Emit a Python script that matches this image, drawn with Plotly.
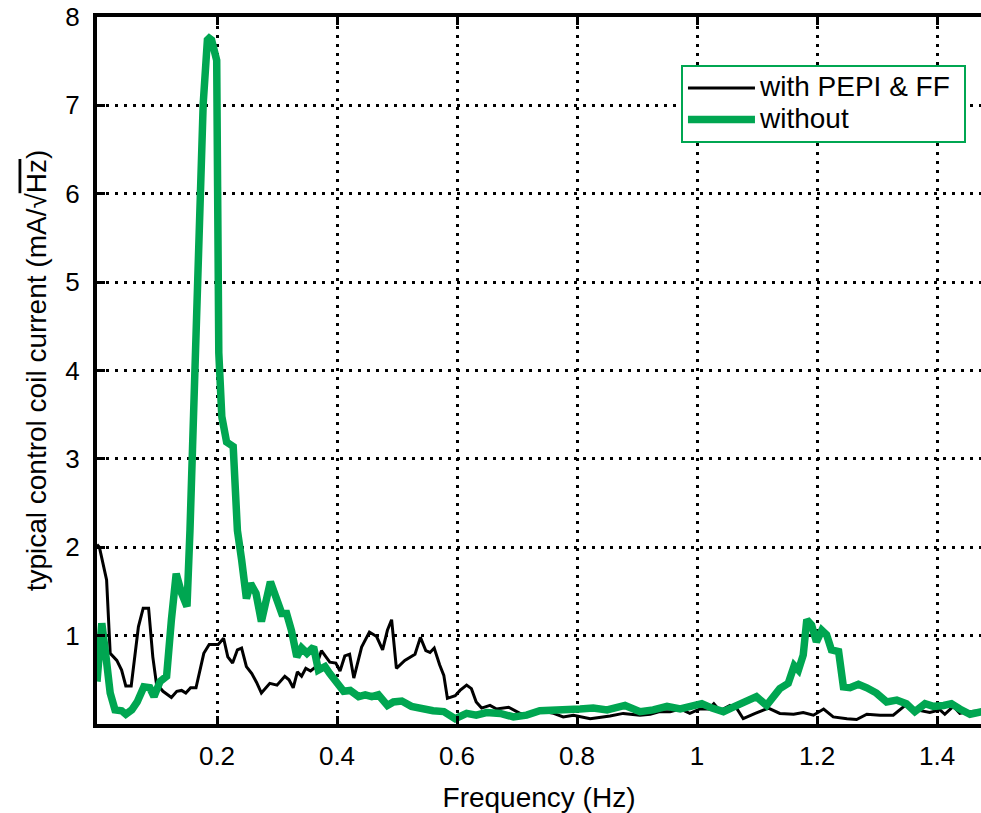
import plotly.graph_objects as go

# ---- data ----
freq_with = [0.0, 0.004, 0.016, 0.022, 0.033, 0.041, 0.048, 0.057, 0.069, 0.077, 0.086, 0.093, 0.099,
             0.11, 0.124, 0.133, 0.141, 0.148, 0.156, 0.165, 0.178, 0.187, 0.202, 0.211, 0.218, 0.226,
             0.234, 0.241, 0.249, 0.258, 0.266, 0.274, 0.288, 0.30, 0.313, 0.32, 0.327, 0.334, 0.341,
             0.348, 0.356, 0.365, 0.374, 0.388, 0.398, 0.405, 0.413, 0.421, 0.428, 0.441, 0.454, 0.466,
             0.476, 0.484, 0.491, 0.499, 0.513, 0.53, 0.539, 0.548, 0.555, 0.562, 0.571, 0.578, 0.584,
             0.597, 0.605, 0.616, 0.624, 0.632, 0.641, 0.655, 0.666, 0.686, 0.705, 0.722, 0.738, 0.761,
             0.777, 0.794, 0.822, 0.855, 0.877, 0.905, 0.922, 0.938, 0.955, 0.972, 0.988, 1.005, 1.019,
             1.028, 1.038, 1.055, 1.066, 1.077, 1.097, 1.119, 1.138, 1.161, 1.177, 1.194, 1.211, 1.227,
             1.25, 1.266, 1.283, 1.305, 1.327, 1.347, 1.366, 1.388, 1.405, 1.413, 1.427, 1.438, 1.452, 1.475]
amp_with = [2.03, 2.0, 1.63, 0.80, 0.72, 0.61, 0.43, 0.43, 1.10, 1.31, 1.31, 0.76, 0.46,
            0.37, 0.30, 0.37, 0.38, 0.35, 0.41, 0.41, 0.80, 0.90, 0.90, 0.97, 0.76, 0.69,
            0.84, 0.86, 0.65, 0.57, 0.47, 0.35, 0.46, 0.44, 0.54, 0.50, 0.41, 0.59, 0.54,
            0.63, 0.60, 0.65, 0.83, 0.70, 0.69, 0.60, 0.77, 0.79, 0.52, 0.87, 1.04, 0.99,
            0.84, 1.06, 1.18, 0.63, 0.72, 0.79, 0.98, 0.83, 0.81, 0.86, 0.67, 0.55, 0.29,
            0.32, 0.38, 0.44, 0.40, 0.25, 0.18, 0.21, 0.17, 0.19, 0.12, 0.12, 0.15, 0.12,
            0.08, 0.10, 0.06, 0.09, 0.12, 0.10, 0.11, 0.14, 0.14, 0.17, 0.12, 0.17, 0.17,
            0.23, 0.15, 0.21, 0.18, 0.06, 0.12, 0.18, 0.12, 0.11, 0.13, 0.10, 0.17, 0.08,
            0.06, 0.05, 0.11, 0.10, 0.10, 0.21, 0.16, 0.13, 0.16, 0.11, 0.20, 0.12, 0.14, 0.15]

freq_without = [0.0, 0.008, 0.015, 0.022, 0.03, 0.041, 0.048, 0.058, 0.067, 0.078, 0.088, 0.095, 0.105,
                0.116, 0.124, 0.132, 0.141, 0.15, 0.155, 0.158, 0.163, 0.171, 0.177, 0.184, 0.187, 0.191,
                0.1995, 0.201, 0.203, 0.208, 0.216, 0.227, 0.234, 0.241, 0.249, 0.256, 0.265, 0.274, 0.283,
                0.289, 0.298, 0.308, 0.316, 0.324, 0.333, 0.341, 0.35, 0.361, 0.369, 0.38, 0.388, 0.40,
                0.411, 0.422, 0.436, 0.447, 0.458, 0.469, 0.484, 0.494, 0.508, 0.524, 0.541, 0.56, 0.578,
                0.597, 0.616, 0.632, 0.649, 0.672, 0.694, 0.716, 0.738, 0.761, 0.783, 0.805, 0.827, 0.85,
                0.88, 0.894, 0.905, 0.927, 0.95, 0.972, 0.988, 1.008, 1.025, 1.044, 1.063, 1.083, 1.099,
                1.116, 1.127, 1.138, 1.152, 1.162, 1.169, 1.177, 1.183, 1.191, 1.199, 1.208, 1.216, 1.224,
                1.236, 1.244, 1.255, 1.269, 1.283, 1.299, 1.316, 1.333, 1.349, 1.363, 1.38, 1.394, 1.411,
                1.424, 1.438, 1.455, 1.475]
amp_without = [0.48, 1.14, 0.76, 0.35, 0.16, 0.15, 0.11, 0.16, 0.25, 0.42, 0.41, 0.31, 0.48,
               0.54, 1.18, 1.70, 1.48, 1.33, 2.2, 2.91, 4.34, 6.0, 7.02, 7.74, 7.76, 7.74,
               7.51, 6.08, 4.2, 3.48, 3.19, 3.14, 2.19, 1.86, 1.42, 1.59, 1.48, 1.16, 1.42,
               1.61, 1.44, 1.25, 1.25, 1.06, 0.76, 0.86, 0.80, 0.87, 0.61, 0.65, 0.57, 0.46,
               0.37, 0.38, 0.31, 0.33, 0.31, 0.33, 0.21, 0.25, 0.26, 0.20, 0.17, 0.15, 0.14,
               0.06, 0.12, 0.10, 0.13, 0.12, 0.08, 0.10, 0.15, 0.15, 0.17, 0.17, 0.18, 0.16,
               0.21, 0.17, 0.14, 0.16, 0.20, 0.17, 0.20, 0.23, 0.18, 0.14, 0.20, 0.25, 0.31,
               0.21, 0.29, 0.40, 0.46, 0.66, 0.61, 0.78, 1.18, 1.12, 0.93, 1.06, 1.01, 0.84,
               0.82, 0.42, 0.41, 0.45, 0.41, 0.35, 0.25, 0.27, 0.23, 0.14, 0.23, 0.20, 0.21,
               0.23, 0.17, 0.11, 0.14]

x_ticks = [0.2, 0.4, 0.6, 0.8, 1.0, 1.2, 1.4]
x_tick_labels = ["0.2", "0.4", "0.6", "0.8", "1", "1.2", "1.4"]
y_ticks = [1, 2, 3, 4, 5, 6, 7, 8]
y_tick_labels = ["1", "2", "3", "4", "5", "6", "7", "8"]
series_names = ["with PEPI &amp; FF", "without"]

GREEN = "#00A651"
FONT = "Liberation Sans, Arial, Helvetica, sans-serif"


def legend_label(text):
    return "<span style='font-size:28px'>" + text + "\u00a0</span>"


fig = go.Figure()
fig.add_trace(go.Scatter(x=freq_with, y=amp_with, mode="lines", name=legend_label(series_names[0]),
                         line=dict(color="black", width=3)))
fig.add_trace(go.Scatter(x=freq_without, y=amp_without, mode="lines", name=legend_label(series_names[1]),
                         line=dict(color=GREEN, width=7.5)))

axis_common = dict(
    showline=True, linecolor="black", linewidth=4,
    ticks="inside", ticklen=8, tickwidth=3, tickcolor="black",
    showgrid=True, gridcolor="black", gridwidth=2.5, griddash="3px,6px",
    zeroline=False, ticklabeloverflow="allow",
    tickfont=dict(family=FONT, size=26, color="black"),
    title_font=dict(family=FONT, size=28, color="black"),
)

fig.update_layout(
    width=981, height=813,
    margin=dict(l=97, r=0, t=17, b=89, autoexpand=False),
    paper_bgcolor="white", plot_bgcolor="white",
    font=dict(family=FONT, color="black"),
    xaxis=dict(range=[0, 1.4733], tickvals=x_ticks, ticktext=x_tick_labels,
               mirror="ticks", ticklabelstandoff=6,
               title=dict(text="Frequency (Hz)", standoff=18),
               automargin=False, **axis_common),
    yaxis=dict(range=[0, 8], tickvals=y_ticks, ticktext=y_tick_labels,
               mirror=False, ticklabelstandoff=8,
               title=dict(text="typical control coil current (mA/\u221a<span style='text-decoration:overline'>Hz</span>)",
                          standoff=12),
               automargin=False, **axis_common),
    legend=dict(x=0.6606, y=0.932, xanchor="left", yanchor="top",
                bgcolor="white", bordercolor=GREEN, borderwidth=2,
                font=dict(family=FONT, size=22, color="black"),
                tracegroupgap=0, itemwidth=67),
    showlegend=True,
)

# remove the default page margin so the 981x813 figure fills the window exactly
fig.write_html("out.html", config={"displayModeBar": False},
               post_script="document.body.style.margin='0';")
